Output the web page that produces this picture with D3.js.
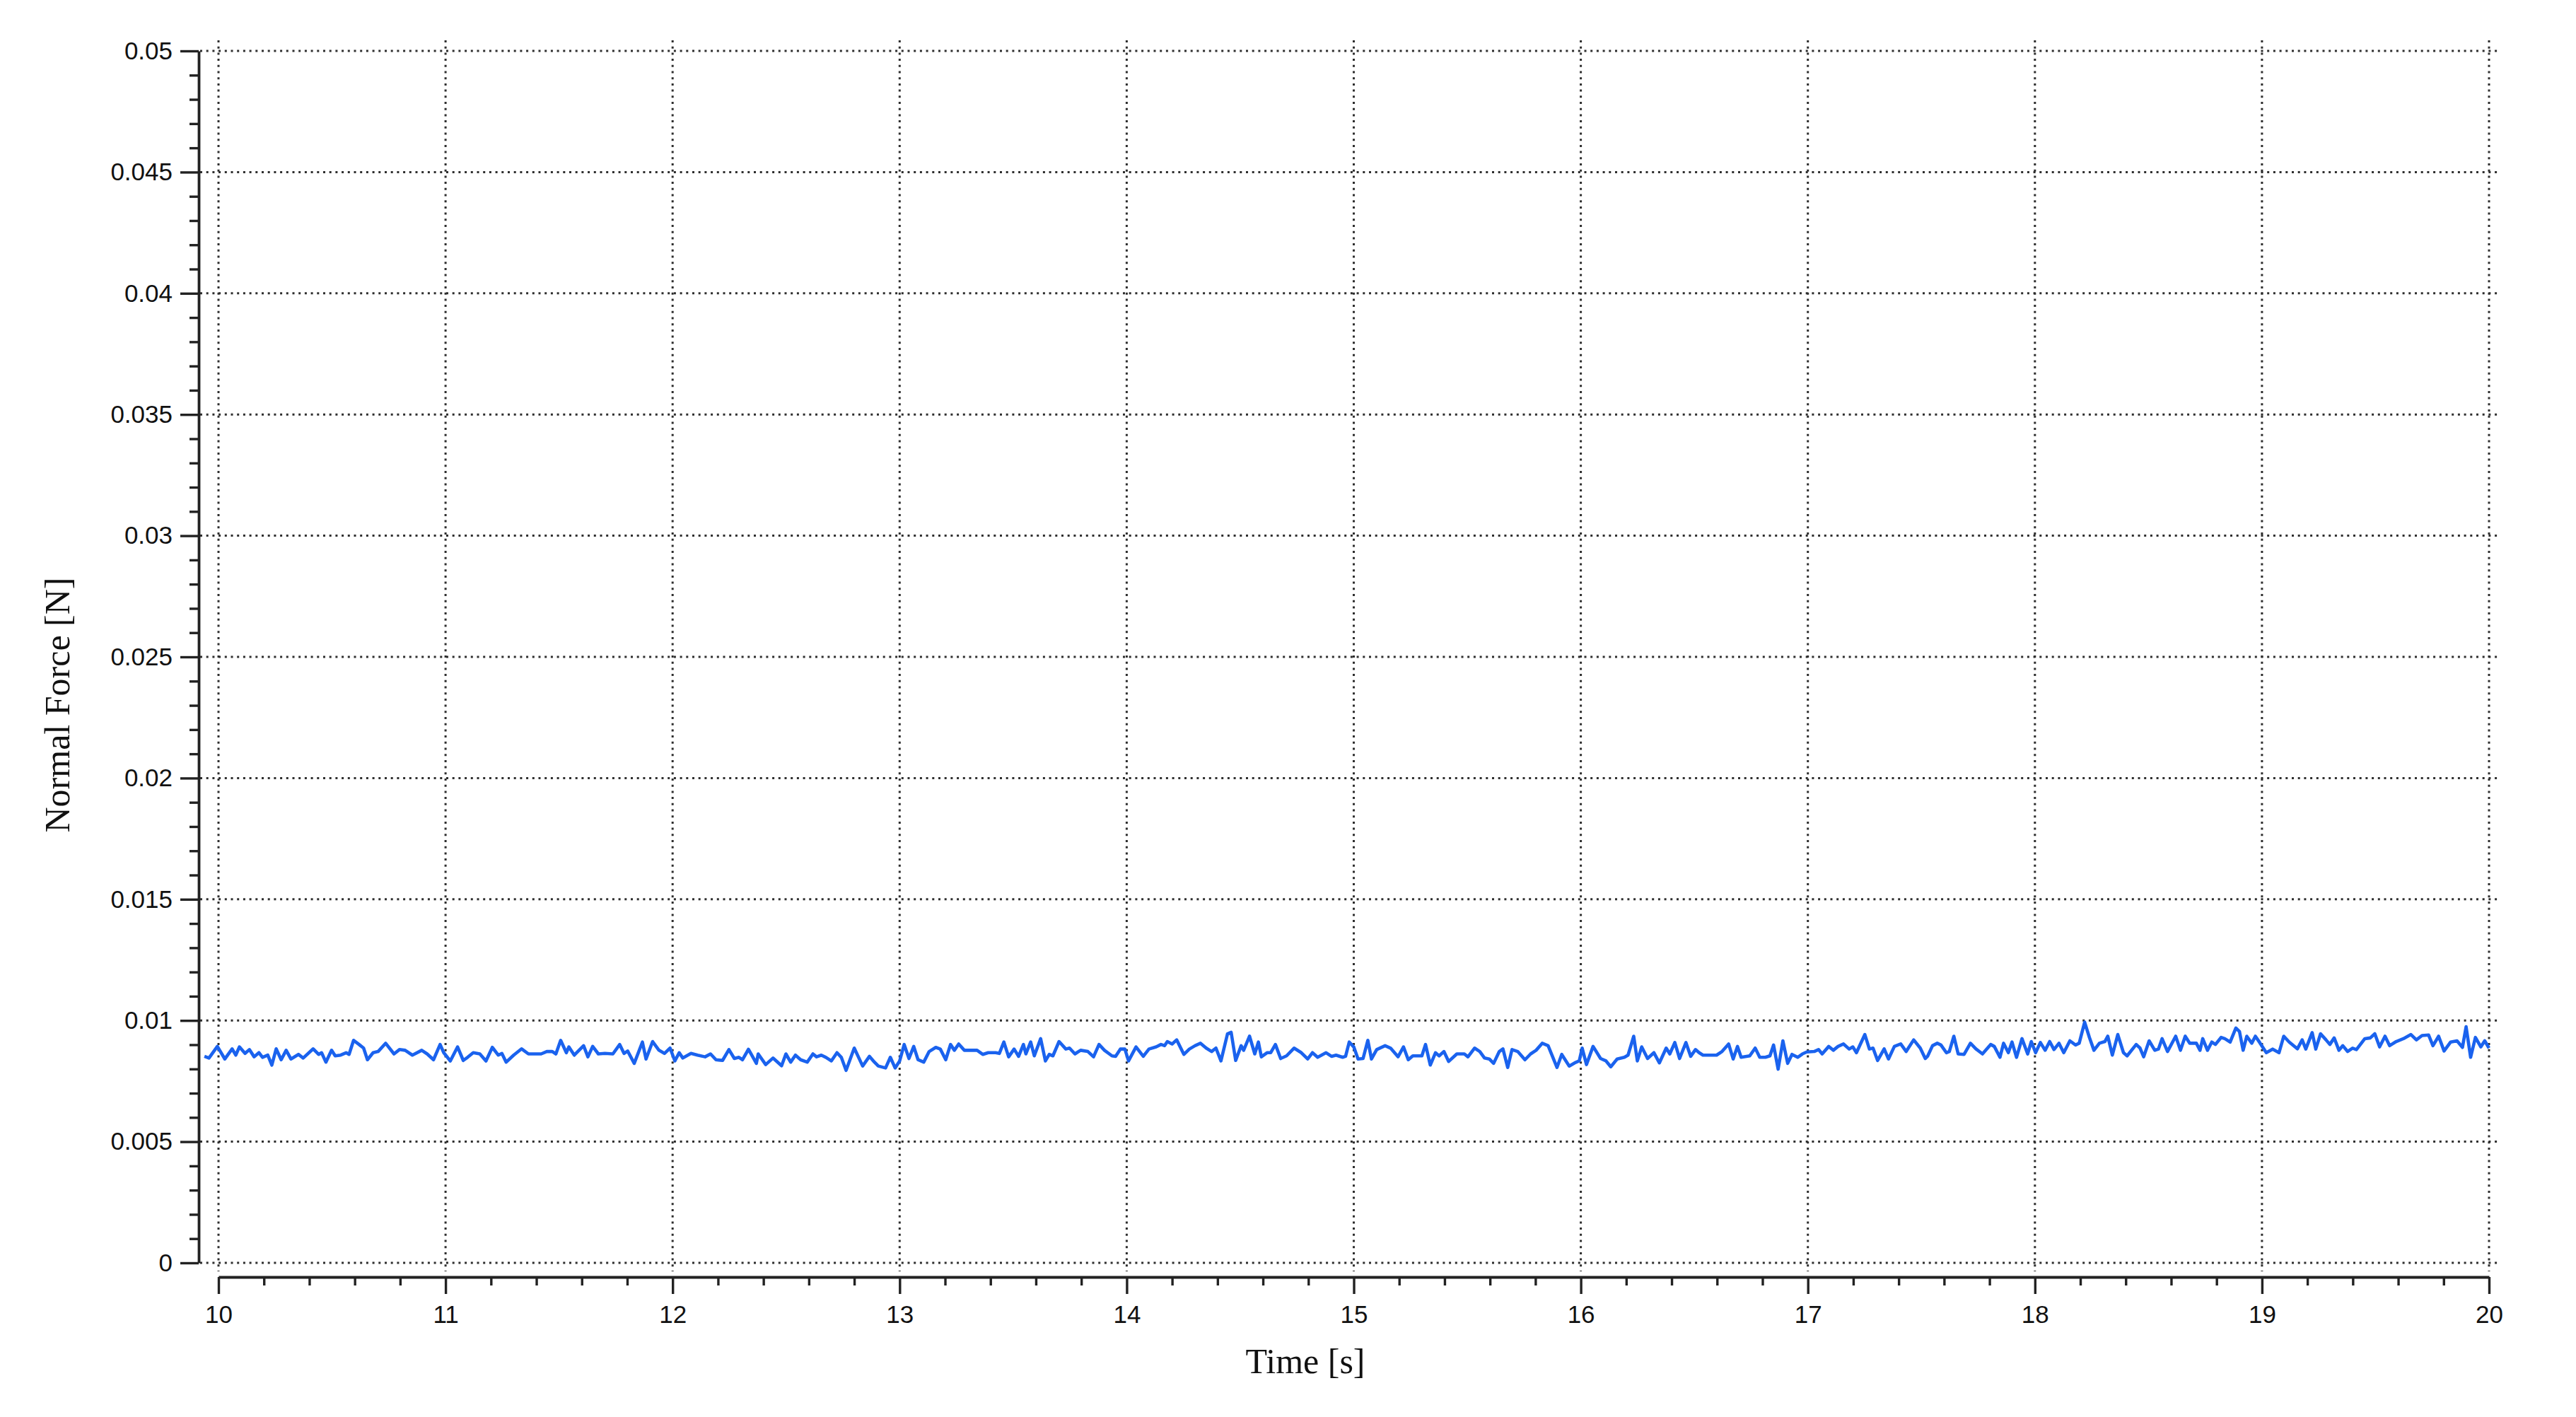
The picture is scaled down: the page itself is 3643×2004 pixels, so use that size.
<!DOCTYPE html>
<html>
<head>
<meta charset="utf-8">
<script src="https://cdn.jsdelivr.net/npm/d3@7"></script>
<style>
  html, body { margin: 0; padding: 0; background: #fff; }
  svg { display: block; }
</style>
</head>
<body>
<svg id="chart" width="3643" height="2004"></svg>
<script>
// ---- Data ----
const timeS = [
9.938,9.958,9.995,10.028,10.060,10.076,10.092,10.117,10.136,10.157,10.178,10.194,10.217,10.235,10.254,10.276,10.298,10.319,10.352,10.373,
10.417,10.441,10.454,10.473,10.498,10.514,10.538,10.562,10.575,10.595,10.619,10.639,10.656,10.681,10.703,10.736,10.773,10.797,10.822,10.854,
10.895,10.919,10.947,10.976,10.992,11.021,11.053,11.078,11.097,11.122,11.151,11.178,11.206,11.232,11.248,11.267,11.300,11.335,11.365,11.421,
11.446,11.470,11.486,11.507,11.532,11.543,11.567,11.608,11.627,11.648,11.673,11.702,11.737,11.767,11.786,11.802,11.831,11.867,11.883,11.912,
11.940,11.964,11.989,12.010,12.029,12.045,12.081,12.110,12.143,12.167,12.191,12.220,12.248,12.272,12.292,12.308,12.334,12.369,12.377,12.410,
12.442,12.480,
12.499,12.520,12.541,12.564,12.593,12.618,12.634,12.655,12.675,12.699,12.724,12.743,12.764,12.800,12.837,12.867,12.889,12.906,12.938,12.959,
12.980,13.000,13.020,13.041,13.062,13.081,13.106,13.130,13.159,13.179,13.203,13.224,13.241,13.260,13.285,13.341,13.366,13.390,13.423,13.439,
13.459,13.480,13.504,13.524,13.545,13.556,13.577,13.593,13.621,13.642,13.659,13.675,13.702,13.732,13.748,13.772,13.797,13.829,13.854,13.878,
13.902,13.935,13.951,13.972,13.992,14.008,14.041,14.073,14.098,14.130,14.151,14.167,14.179,14.200,14.220,14.252,14.276,14.301,14.325,14.350,
14.374,14.393,14.415,14.444,14.460,14.480,14.504,14.515,14.541,14.564,14.580,14.593,14.618,14.634,14.655,14.678,14.704,14.737,14.769,14.797,
14.818,14.841,14.878,14.902,14.922,14.951,14.964,14.980,15.000,
15.019,15.041,15.062,15.078,15.101,15.138,15.162,15.195,15.219,15.240,15.260,15.300,15.316,15.337,15.360,15.376,15.397,15.418,15.454,15.487,
15.503,15.532,15.555,15.576,15.597,15.616,15.641,15.657,15.678,15.697,15.722,15.754,15.779,15.803,15.830,15.856,15.895,15.916,15.949,15.973,
15.993,16.006,16.025,16.054,16.087,16.111,16.132,16.160,16.192,16.208,16.233,16.249,16.268,16.294,16.322,16.346,16.376,16.392,16.414,16.435,
16.463,16.484,16.505,16.521,16.538,16.598,16.622,16.651,16.671,16.690,16.706,16.744,16.768,16.788,16.813,16.833,16.849,16.869,16.890,16.911,
16.930,16.955,16.976,16.995,17.028,17.047,17.063,17.092,17.112,17.133,17.157,17.182,17.198,17.214,17.251,17.271,17.287,17.307,17.336,17.355,
17.381,17.409,17.433,17.466,17.495,17.517,17.527,
17.549,17.570,17.586,17.610,17.623,17.643,17.662,17.688,17.716,17.740,17.769,17.805,17.821,17.846,17.862,17.883,17.899,17.919,17.943,17.968,
17.984,18.003,18.024,18.045,18.065,18.084,18.106,18.127,18.154,18.179,18.195,18.219,18.240,18.260,18.284,18.308,18.321,18.341,18.365,18.390,
18.406,18.446,18.463,18.479,18.503,18.528,18.544,18.560,18.584,18.620,18.641,18.662,18.682,18.711,18.727,18.739,18.760,18.779,18.795,18.820,
18.836,18.860,18.885,18.901,18.917,18.933,18.955,18.971,18.990,19.019,19.047,19.075,19.096,19.120,19.156,19.177,19.193,19.221,19.237,19.258,
19.282,19.299,19.318,19.339,19.356,19.377,19.399,19.416,19.453,19.477,19.497,19.518,19.542,19.562,19.591,19.623,19.656,19.680,19.705,19.734,
19.753,19.778,19.802,19.831,19.859,19.883,19.899,19.919,19.940,19.964,19.981,20.000
];
const normalForceN = [
0.00852,0.00845,0.00893,0.00841,0.00883,0.00857,0.00891,0.00864,0.00880,0.00850,0.00867,0.00848,0.00857,0.00816,0.00883,0.00838,0.00877,0.00841,0.00860,0.00845,
0.00883,0.00860,0.00867,0.00828,0.00877,0.00854,0.00857,0.00867,0.00860,0.00918,0.00901,0.00886,0.00838,0.00867,0.00872,0.00906,0.00862,0.00880,0.00877,0.00857,
0.00877,0.00862,0.00838,0.00901,0.00867,0.00833,0.00891,0.00835,0.00848,0.00867,0.00862,0.00833,0.00889,0.00857,0.00864,0.00828,0.00857,0.00883,0.00862,0.00862,
0.00872,0.00872,0.00862,0.00918,0.00867,0.00891,0.00857,0.00896,0.00850,0.00893,0.00862,0.00864,0.00862,0.00901,0.00864,0.00874,0.00823,0.00911,0.00841,0.00913,
0.00877,0.00864,0.00886,0.00833,0.00867,0.00845,0.00864,0.00857,0.00850,0.00862,0.00838,0.00835,0.00880,0.00843,0.00848,0.00838,0.00881,0.00823,0.00862,0.00818,
0.00845,0.00813,
0.00862,0.00828,0.00857,0.00838,0.00828,0.00862,0.00850,0.00857,0.00848,0.00833,0.00867,0.00848,0.00794,0.00886,0.00812,0.00852,0.00828,0.00812,0.00804,0.00848,
0.00804,0.00833,0.00901,0.00843,0.00893,0.00838,0.00828,0.00872,0.00889,0.00882,0.00838,0.00901,0.00877,0.00903,0.00877,0.00877,0.00860,0.00867,0.00867,0.00864,
0.00911,0.00850,0.00882,0.00852,0.00901,0.00862,0.00911,0.00854,0.00925,0.00833,0.00860,0.00854,0.00913,0.00882,0.00886,0.00862,0.00877,0.00872,0.00850,0.00901,
0.00877,0.00854,0.00852,0.00882,0.00882,0.00833,0.00891,0.00852,0.00882,0.00891,0.00901,0.00896,0.00913,0.00903,0.00920,0.00860,0.00882,0.00896,0.00906,0.00886,
0.00872,0.00886,0.00833,0.00945,0.00951,0.00835,0.00896,0.00877,0.00935,0.00862,0.00911,0.00850,0.00867,0.00867,0.00901,0.00843,0.00854,0.00886,0.00867,0.00841,
0.00867,0.00848,0.00867,0.00852,0.00857,0.00848,0.00852,0.00911,0.00891,
0.00841,0.00843,0.00918,0.00841,0.00880,0.00896,0.00886,0.00850,0.00891,0.00838,0.00854,0.00854,0.00901,0.00816,0.00867,0.00854,0.00872,0.00831,0.00862,0.00862,
0.00850,0.00886,0.00872,0.00845,0.00841,0.00823,0.00872,0.00883,0.00806,0.00880,0.00872,0.00838,0.00862,0.00877,0.00906,0.00896,0.00806,0.00860,0.00812,0.00825,
0.00833,0.00886,0.00818,0.00893,0.00843,0.00833,0.00809,0.00841,0.00848,0.00857,0.00935,0.00833,0.00891,0.00843,0.00867,0.00825,0.00886,0.00862,0.00909,0.00843,
0.00909,0.00852,0.00880,0.00867,0.00857,0.00857,0.00872,0.00903,0.00841,0.00893,0.00848,0.00854,0.00886,0.00848,0.00848,0.00854,0.00899,0.00799,0.00916,0.00823,
0.00860,0.00848,0.00862,0.00870,0.00872,0.00880,0.00862,0.00893,0.00877,0.00893,0.00903,0.00882,0.00891,0.00867,0.00942,0.00882,0.00886,0.00835,0.00883,0.00841,
0.00893,0.00903,0.00872,0.00920,0.00886,0.00843,0.00852,
0.00896,0.00906,0.00899,0.00867,0.00872,0.00935,0.00862,0.00860,0.00906,0.00883,0.00862,0.00901,0.00893,0.00848,0.00906,0.00867,0.00911,0.00848,0.00925,0.00862,
0.00913,0.00867,0.00909,0.00877,0.00913,0.00880,0.00906,0.00867,0.00916,0.00899,0.00906,0.00993,0.00930,0.00877,0.00906,0.00913,0.00935,0.00857,0.00942,0.00867,
0.00854,0.00901,0.00886,0.00850,0.00916,0.00877,0.00882,0.00925,0.00872,0.00935,0.00877,0.00935,0.00906,0.00906,0.00877,0.00925,0.00877,0.00911,0.00901,0.00930,
0.00925,0.00911,0.00969,0.00954,0.00877,0.00935,0.00906,0.00935,0.00909,0.00867,0.00882,0.00867,0.00935,0.00911,0.00883,0.00920,0.00882,0.00950,0.00882,0.00945,
0.00920,0.00901,0.00928,0.00877,0.00896,0.00872,0.00886,0.00880,0.00925,0.00928,0.00945,0.00891,0.00935,0.00896,0.00913,0.00925,0.00942,0.00920,0.00938,0.00940,
0.00896,0.00935,0.00874,0.00911,0.00916,0.00889,0.00974,0.00848,0.00930,0.00891,0.00916,0.00886
];
const xTickValues = [10, 11, 12, 13, 14, 15, 16, 17, 18, 19, 20];
const xTickLabels = ["10", "11", "12", "13", "14", "15", "16", "17", "18", "19", "20"];
const yTickValues = [0, 0.005, 0.01, 0.015, 0.02, 0.025, 0.03, 0.035, 0.04, 0.045, 0.05];
const yTickLabels = ["0", "0.005", "0.01", "0.015", "0.02", "0.025", "0.03", "0.035", "0.04", "0.045", "0.05"];
const xTitle = "Time [s]";
const yTitle = "Normal Force [N]";

// ---- Layout ----
const svg = d3.select("#chart");
const x = d3.scaleLinear().domain([10, 20]).range([309, 3520]);
const y = d3.scaleLinear().domain([0, 0.05]).range([1786, 72]);
const yAxisX = 281, xAxisY = 1806;
const tickFont = "'Liberation Sans', Arial, sans-serif";
const titleFont = "'Liberation Serif', 'Times New Roman', serif";

// grid
const grid = svg.append("g").attr("stroke", "#2e2e2e").attr("stroke-width", 3)
  .attr("stroke-dasharray", "3,5.7").attr("fill", "none");
grid.selectAll("line.h").data(yTickValues).join("line").attr("class", "h")
  .attr("x1", yAxisX + 2).attr("x2", 3533)
  .attr("y1", d => y(d)).attr("y2", d => y(d));
grid.selectAll("line.v").data(xTickValues).join("line").attr("class", "v")
  .attr("y1", 57).attr("y2", 1798)
  .attr("x1", d => x(d)).attr("x2", d => x(d));

// data line
const pts = timeS.map((t, i) => [t, normalForceN[i]]);
svg.append("path").datum(pts)
  .attr("fill", "none").attr("stroke", "#1a62ee").attr("stroke-width", 4.6)
  .attr("stroke-linejoin", "round")
  .attr("d", d3.line().x(d => x(d[0])).y(d => y(d[1])));

// y axis
const yMinor = d3.range(0, 0.0505, 0.001).filter(v => Math.abs(v / 0.005 - Math.round(v / 0.005)) > 1e-6);
const gyMinor = svg.append("g").attr("transform", `translate(${yAxisX},0)`)
  .call(d3.axisLeft(y).tickValues(yMinor).tickSize(13).tickSizeOuter(0).tickFormat(""));
const gy = svg.append("g").attr("transform", `translate(${yAxisX},0)`)
  .call(d3.axisLeft(y).tickValues(yTickValues).tickSize(26).tickSizeOuter(0).tickPadding(11)
    .tickFormat((d, i) => yTickLabels[i]));

// x axis
const xMinor = d3.range(10, 20.001, 0.2).filter(v => Math.abs(v - Math.round(v)) > 1e-6);
const gxMinor = svg.append("g").attr("transform", `translate(0,${xAxisY})`)
  .call(d3.axisBottom(x).tickValues(xMinor).tickSize(12).tickSizeOuter(0).tickFormat(""));
const gx = svg.append("g").attr("transform", `translate(0,${xAxisY})`)
  .call(d3.axisBottom(x).tickValues(xTickValues).tickSize(24).tickSizeOuter(0).tickPadding(16)
    .tickFormat((d, i) => xTickLabels[i]));

svg.selectAll(".domain").attr("stroke", "#222").attr("stroke-width", 3.8);
svg.selectAll(".tick line").attr("stroke", "#222").attr("stroke-width", 3.4);
svg.selectAll(".tick text").attr("font-family", tickFont).attr("font-size", 35).attr("fill", "#111");
gyMinor.select(".domain").remove();
gxMinor.select(".domain").remove();

// titles
svg.append("text").attr("x", 1846).attr("y", 1942).attr("text-anchor", "middle")
  .attr("font-family", titleFont).attr("font-size", 50).attr("fill", "#111").text(xTitle);
svg.append("text").attr("transform", "translate(98,997) rotate(-90)").attr("text-anchor", "middle")
  .attr("font-family", titleFont).attr("font-size", 50).attr("fill", "#111").text(yTitle);
</script>
</body>
</html>
